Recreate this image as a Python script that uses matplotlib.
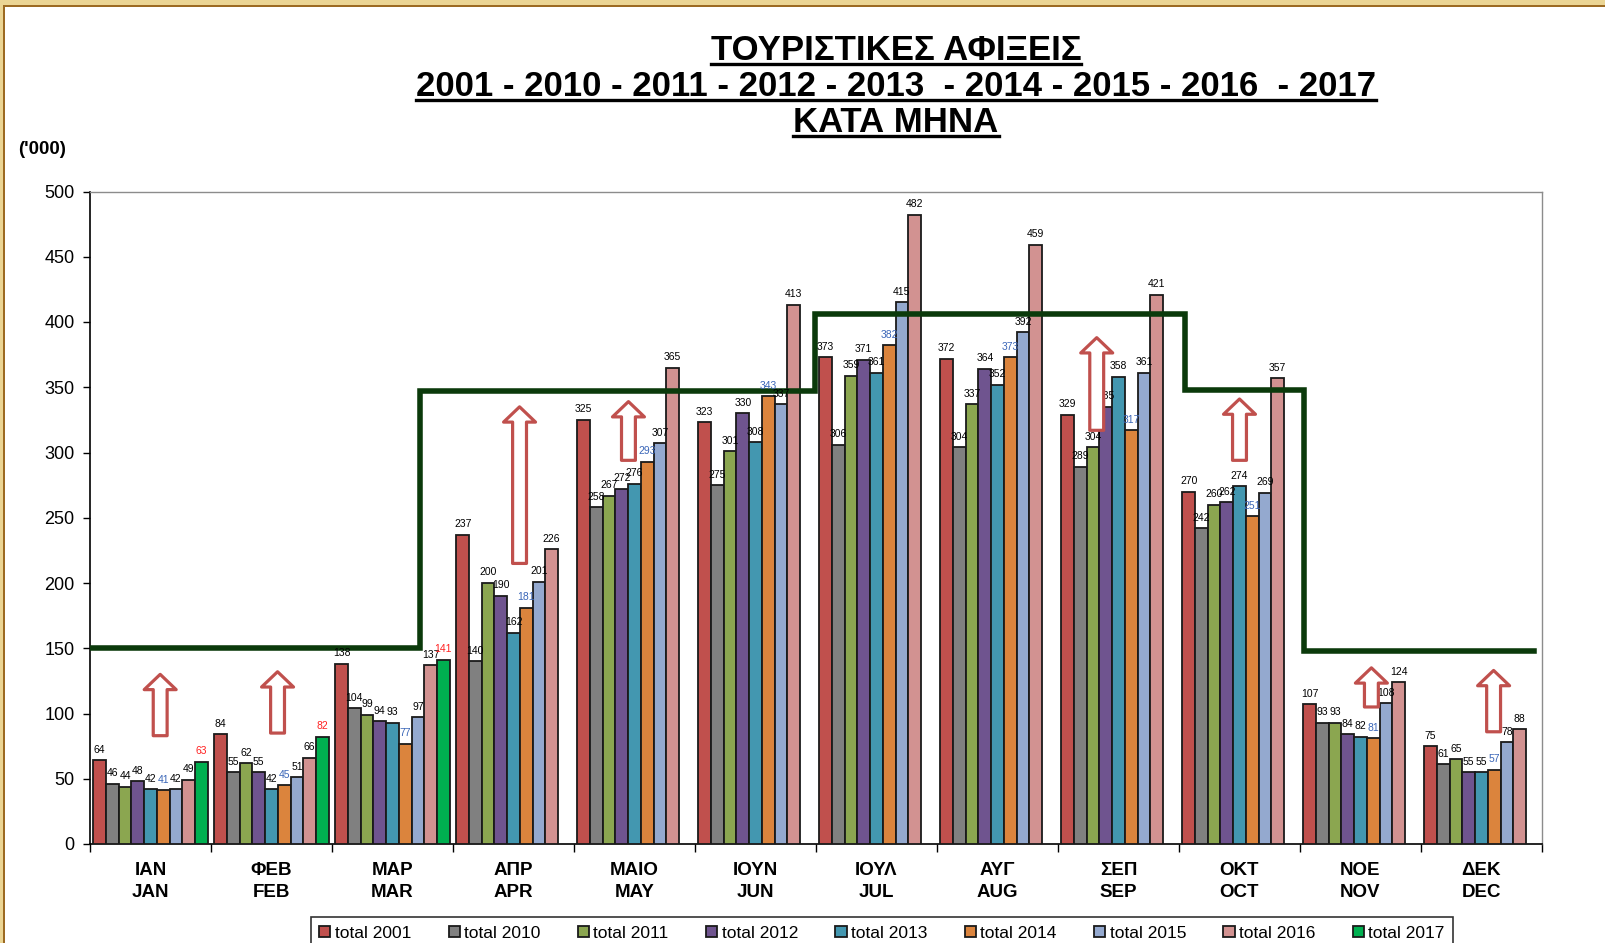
import numpy as np
import matplotlib
matplotlib.use("Agg")
import matplotlib.pyplot as plt
from matplotlib.patches import FancyArrowPatch, Rectangle
from matplotlib.lines import Line2D

# ---------------- data ----------------
months_gr = ["ΙΑΝ", "ΦΕΒ", "ΜΑΡ", "ΑΠΡ", "ΜΑΙΟ", "ΙΟΥΝ", "ΙΟΥΛ", "ΑΥΓ", "ΣΕΠ", "ΟΚΤ", "ΝΟΕ", "ΔΕΚ"]
months_en = ["JAN", "FEB", "MAR", "APR", "MAY", "JUN", "JUL", "AUG", "SEP", "OCT", "NOV", "DEC"]

series_names = ["total 2001", "total 2010", "total 2011", "total 2012", "total 2013",
                "total 2014", "total 2015", "total 2016", "total 2017"]
total_2001 = [64, 84, 138, 237, 325, 323, 373, 372, 329, 270, 107, 75]
total_2010 = [46, 55, 104, 140, 258, 275, 306, 304, 289, 242, 93, 61]
total_2011 = [44, 62, 99, 200, 267, 301, 359, 337, 304, 260, 93, 65]
total_2012 = [48, 55, 94, 190, 272, 330, 371, 364, 335, 262, 84, 55]
total_2013 = [42, 42, 93, 162, 276, 308, 361, 352, 358, 274, 82, 55]
total_2014 = [41, 45, 77, 181, 293, 343, 382, 373, 317, 251, 81, 57]
total_2015 = [42, 51, 97, 201, 307, 337, 415, 392, 361, 269, 108, 78]
total_2016 = [49, 66, 137, 226, 365, 413, 482, 459, 421, 357, 124, 88]
total_2017 = [63, 82, 141]
all_series = [total_2001, total_2010, total_2011, total_2012, total_2013,
              total_2014, total_2015, total_2016, total_2017]

colors = ["#C0504D", "#808080", "#8BA650", "#6F548F", "#4397B0",
          "#DB843D", "#94A9CF", "#D29291", "#00B050"]
label_colors = ["black"] * 5 + ["#3A66B8", "black", "black", "#FF2020"]

# threshold step line (category-coordinate breakpoints, levels in '000)
step_breaks = [-0.5, 2.23, 5.49, 8.55, 9.53, 11.43]
step_levels = [150, 347, 406, 348, 148]

# hollow arrows: (x position, start value, end value)
arrow_x = [0.08, 1.05, 3.05, 3.95, 7.82, 9.0, 10.09, 11.1]
arrow_from = [83, 85, 215, 294, 317, 294, 105, 86]
arrow_to = [130, 132, 335, 339, 388, 341, 135, 133]

# ---------------- figure ----------------
W, H = 1606, 943
fig = plt.figure(figsize=(W / 100, H / 100), dpi=100)
fig.patch.set_facecolor("white")

# golden frame (top and left)
fig.patches.append(Rectangle((0, 1 - 5 / H), 1, 5 / H, transform=fig.transFigure,
                             facecolor="#EBD594", edgecolor="none", zorder=0))
fig.patches.append(Rectangle((0, 1 - 7 / H), 1, 2 / H, transform=fig.transFigure,
                             facecolor="#9C6A22", edgecolor="none", zorder=0))
fig.patches.append(Rectangle((0, 0), 3 / W, 1, transform=fig.transFigure,
                             facecolor="#EBD594", edgecolor="none", zorder=0))
fig.patches.append(Rectangle((3 / W, 0), 2 / W, 1 - 5 / H, transform=fig.transFigure,
                             facecolor="#9C6A22", edgecolor="none", zorder=0))

ax = fig.add_axes([90 / W, 1 - 844 / H, (1542 - 90) / W, (844 - 191.5) / H])

x = np.arange(len(months_gr))
n = len(all_series)
bw = 0.105
for k, (vals, name, col, lc) in enumerate(zip(all_series, series_names, colors, label_colors)):
    xs = x[:len(vals)] + (k - (n - 1) / 2) * bw
    ax.bar(xs, vals, width=bw, color=col, edgecolor="#1a1a1a", linewidth=1.3,
           label=name, zorder=3)
    for xi, v in zip(xs, vals):
        ax.annotate(str(v), (xi, v), xytext=(0, 4), textcoords="offset points",
                    ha="center", va="bottom", fontsize=7.5, color=lc,
                    family=["Liberation Sans", "DejaVu Sans"], zorder=5)

# step line
sx = np.repeat(step_breaks, 2)[1:-1]
sy = np.repeat(step_levels, 2)
ax.plot(sx, sy, color="#0B3A0B", linewidth=4, zorder=4, solid_joinstyle="miter")

# hollow arrows
for ax_x, y0, y1 in zip(arrow_x, arrow_from, arrow_to):
    arr = FancyArrowPatch((ax_x, y0), (ax_x, y1),
                          arrowstyle="simple,head_length=11,head_width=23,tail_width=10",
                          mutation_scale=1, facecolor="white", edgecolor="#C0504D",
                          linewidth=2.3, shrinkA=0, shrinkB=0, zorder=6)
    ax.add_patch(arr)

ax.set_xlim(-0.5, 11.5)
ax.set_ylim(0, 500)
ax.set_yticks(np.arange(0, 501, 50))
ax.tick_params(axis="y", direction="out", length=5, width=1, labelsize=13, pad=6)
for lbl in ax.get_yticklabels():
    lbl.set_family(["Liberation Sans", "DejaVu Sans"])

ax.set_xticks(x)
ax.set_xticklabels([f"{g}\n{e}" for g, e in zip(months_gr, months_en)],
                   fontsize=13.5, fontweight="bold", linespacing=1.35,
                   family=["Liberation Sans", "DejaVu Sans"])
ax.tick_params(axis="x", length=0, pad=13)
ax.set_xticks(np.arange(-0.5, 12.0, 1.0), minor=True)
ax.tick_params(axis="x", which="minor", direction="out", length=6, width=1)

for side in ("top", "right"):
    ax.spines[side].set_color("#8C8C8C")
    ax.spines[side].set_linewidth(1)
for side in ("left", "bottom"):
    ax.spines[side].set_color("black")
    ax.spines[side].set_linewidth(1.2)

# unit label
fig.text(18 / W, 1 - 150 / H, "('000)", fontsize=13.5, fontweight="bold",
         ha="left", va="center", family=["Liberation Sans", "DejaVu Sans"])

# title with underlines
title_lines = ["ΤΟΥΡΙΣΤΙΚΕΣ ΑΦΙΞΕΙΣ",
               "2001 - 2010 - 2011 - 2012 - 2013  - 2014 - 2015 - 2016  - 2017",
               "ΚΑΤΑ ΜΗΝΑ"]
title_y = [50, 86, 122]
texts = []
for s, ty in zip(title_lines, title_y):
    t = fig.text(896 / W, 1 - ty / H, s, fontsize=25, fontweight="bold",
                 ha="center", va="center", family=["Liberation Sans", "DejaVu Sans"])
    texts.append(t)

# legend
leg = fig.legend(loc="upper center", bbox_to_anchor=(882 / W, 1 - 917 / H),
                 ncol=9, frameon=True, fancybox=False, edgecolor="black",
                 prop={"family": ["Liberation Sans Narrow", "Liberation Sans"], "size": 12.5},
                 handlelength=0.65, handleheight=0.65, handletextpad=0.25,
                 columnspacing=2.15, borderpad=0.5, borderaxespad=0)
leg.get_frame().set_linewidth(1.2)

fig.canvas.draw()
renderer = fig.canvas.get_renderer()
for t in texts:
    bb = t.get_window_extent(renderer)
    yline = (bb.y0 + 3) / H
    fig.add_artist(Line2D([bb.x0 / W, bb.x1 / W], [yline, yline],
                          transform=fig.transFigure, color="black", linewidth=2.4))

fig.savefig("out.png", dpi=100, facecolor=fig.get_facecolor())
